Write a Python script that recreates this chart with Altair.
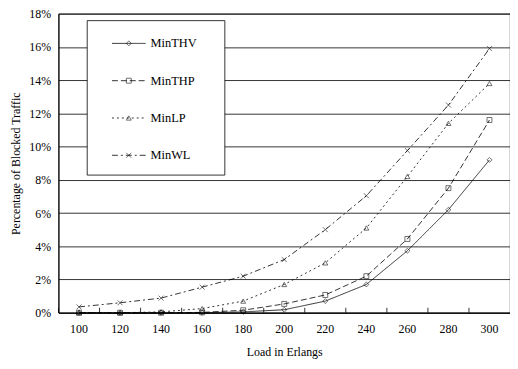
import altair as alt
import pandas as pd

loads = [100, 120, 140, 160, 180, 200, 220, 240, 260, 280, 300]
series_names = ["MinTHV", "MinTHP", "MinLP", "MinWL"]
min_thv = [0, 0, 0, 0, 0.05, 0.18, 0.7, 1.7, 3.73, 6.2, 9.2]
min_thp = [0, 0, 0, 0.02, 0.15, 0.53, 1.07, 2.2, 4.44, 7.5, 11.6]
min_lp = [0, 0, 0.05, 0.25, 0.7, 1.7, 3.0, 5.1, 8.2, 11.4, 13.8]
min_wl = [0.35, 0.6, 0.88, 1.54, 2.2, 3.2, 5.0, 7.04, 9.76, 12.5, 15.9]
y_ticks = [0, 2, 4, 6, 8, 10, 12, 14, 16, 18]

rows = []
for name, vals in zip(series_names, [min_thv, min_thp, min_lp, min_wl]):
    for l, v in zip(loads, vals):
        rows.append({"load": l, "value": v, "series": name})
df = pd.DataFrame(rows)

FONT = "Liberation Serif"
dash_scale = alt.Scale(domain=series_names,
                       range=[[1, 0], [6, 3], [2, 3], [6, 3, 2, 3]])
shape_scale = alt.Scale(domain=series_names,
                        range=["diamond", "square", "triangle-up",
                               "M-1,-1L1,1M-1,1L1,-1"])

x_enc = alt.X("load:O", title="Load in Erlangs",
              scale=alt.Scale(paddingInner=0, paddingOuter=0),
              axis=alt.Axis(labelAngle=0, ticks=False, domain=True,
                            domainColor="black", labelPadding=11,
                            titlePadding=12))
y_enc = alt.Y("value:Q", title="Percentage of Blocked Traffic",
              scale=alt.Scale(domain=[0, 18], nice=False),
              axis=alt.Axis(values=y_ticks, labelExpr="datum.value + '%'",
                            ticks=False, grid=True, gridColor="black",
                            gridWidth=0.8, domainColor="black",
                            labelOverlap=False,
                            labelPadding=8, titlePadding=6))

lines = alt.Chart(df).mark_line(color="black", strokeWidth=0.8).encode(
    x=x_enc, y=y_enc,
    strokeDash=alt.StrokeDash("series:N", scale=dash_scale, legend=None),
    detail="series:N",
)
points = alt.Chart(df).mark_point(color="black", filled=False, size=25,
                                  strokeWidth=0.8).encode(
    x=x_enc, y=y_enc,
    shape=alt.Shape("series:N", scale=shape_scale, legend=None),
)

tick_df = pd.DataFrame({"load": loads})
ticks = alt.Chart(tick_df).mark_rule(color="black", strokeWidth=0.8).encode(
    x=alt.X("load:O", bandPosition=0),
    y=alt.value(302), y2=alt.value(297),
)

plot = alt.layer(lines, points, ticks)

# legend box
box = alt.Chart(pd.DataFrame({"a": [0]})).mark_rect(
    fill="white", stroke="black", strokeWidth=0.8).encode(
    x=alt.value(29), x2=alt.value(168), y=alt.value(7), y2=alt.value(163))

leg_df = pd.DataFrame({"series": series_names})
leg_y = alt.Y("series:N", sort=series_names, axis=None,
              scale=alt.Scale(type="point", range=[30, 143], padding=0))
leg_lines = alt.Chart(leg_df).mark_rule(color="black", strokeWidth=0.8).encode(
    x=alt.value(54), x2=alt.value(88), y=leg_y,
    strokeDash=alt.StrokeDash("series:N", scale=dash_scale, legend=None))
leg_pts = alt.Chart(leg_df).mark_point(color="black", filled=False, size=25,
                                       strokeWidth=0.8).encode(
    x=alt.value(71), y=leg_y,
    shape=alt.Shape("series:N", scale=shape_scale, legend=None))
leg_text = alt.Chart(leg_df).mark_text(font=FONT, fontSize=12.5, align="left",
                                       baseline="middle", color="black").encode(
    x=alt.value(93), y=leg_y, text="series:N")

legend = alt.layer(box, leg_lines, leg_pts, leg_text)

chart = alt.layer(plot, legend).resolve_scale(y="independent").properties(
    width=456, height=302,
    autosize=alt.AutoSizeParams(type="none"),
    padding={"left": 51, "top": 4, "right": 0, "bottom": 47},
).configure_view(stroke="black", strokeWidth=0.8).configure_axis(
    labelFont=FONT, titleFont=FONT, labelFontSize=12, titleFontSize=12,
    labelColor="black", titleColor="black", titleFontWeight="normal",
)

chart.save("out.html", embed_options={"renderer": "svg", "actions": False})
